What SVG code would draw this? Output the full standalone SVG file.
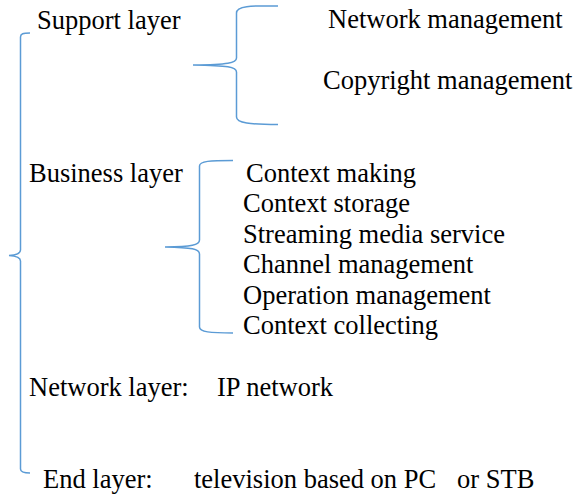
<svg xmlns="http://www.w3.org/2000/svg" width="576" height="495" viewBox="0 0 576 495">
<style>
.t{font-family:"Liberation Serif","Times New Roman",serif;font-size:26.5px;fill:#000}
.b{fill:none;stroke:#5B9BD5;stroke-width:1.5}
</style>
<rect width="576" height="495" fill="#fff"/>
<g id="connectors">
<path class="b" d="M30,33 C23,33 20.5,33.5 20.5,37 L20.5,250 C20.5,253 18,255 9,255.5 C18,256 20.5,258 20.5,261 L20.5,469 C20.5,472 23,473 30,473"/>
<path class="b" d="M278,6 C250,5.5 236.5,6 236.5,13 L236.5,58 C236.5,63 228,64.5 193,65 C228,65.5 236.5,67 236.5,72 L236.5,117 C236.5,123 250,124.5 278,124.5"/>
<path class="b" d="M233,160.5 C210,160.5 199.5,161 199.5,166 L199.5,240 C199.5,245 192,246.5 165,247 C192,247.5 199.5,249 199.5,254 L199.5,327 C199.5,332 210,333 233,333"/>
</g>
<g id="support"><text class="t" x="37" y="29">Support layer</text></g>
<g id="network-management"><text class="t" x="328" y="28">Network management</text></g>
<g id="copyright-management"><text class="t" x="323" y="89">Copyright management</text></g>
<g id="business"><text class="t" x="29" y="182">Business layer</text></g>
<g id="context-making"><text class="t" x="246" y="182">Context making</text></g>
<g id="context-storage"><text class="t" x="243" y="212">Context storage</text></g>
<g id="streaming"><text class="t" x="243" y="243">Streaming media service</text></g>
<g id="channel"><text class="t" x="243" y="273">Channel management</text></g>
<g id="operation"><text class="t" x="243" y="304">Operation management</text></g>
<g id="context-collecting"><text class="t" x="243" y="334">Context collecting</text></g>
<g id="network-layer"><text class="t" x="29" y="396">Network layer:</text><text class="t" x="217" y="396">IP network</text></g>
<g id="end-layer"><text class="t" x="43" y="488">End layer:</text><text class="t" x="194" y="488">television based on PC</text><text class="t" x="457" y="488">or STB</text></g>
</svg>
